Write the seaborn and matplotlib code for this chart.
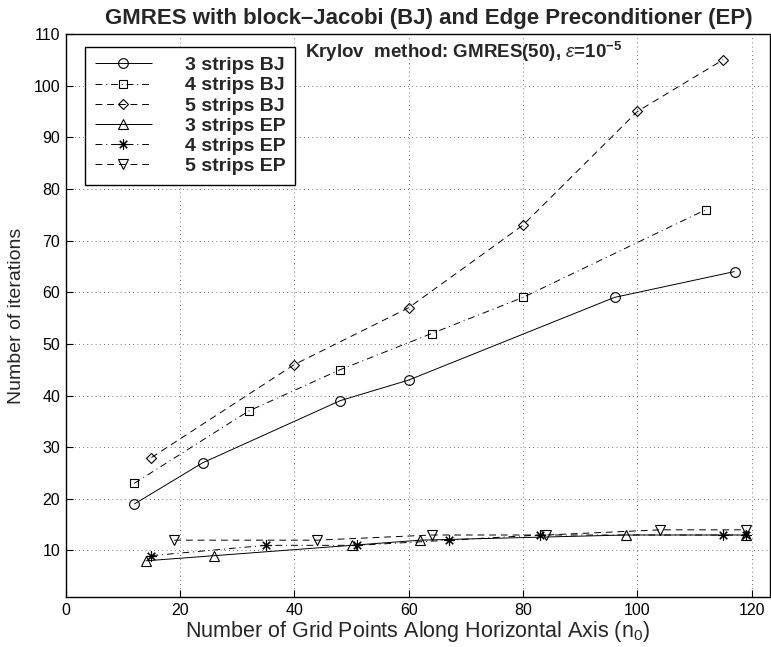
import matplotlib
matplotlib.use("Agg")
import matplotlib.pyplot as plt
import pandas as pd
import seaborn as sns

# data
x_bj3 = [12, 24, 48, 60, 96, 117]
y_bj3 = [19, 27, 39, 43, 59, 64]
x_bj4 = [12, 32, 48, 64, 80, 112]
y_bj4 = [23, 37, 45, 52, 59, 76]
x_bj5 = [15, 40, 60, 80, 100, 115]
y_bj5 = [28, 46, 57, 73, 95, 105]
x_ep3 = [14, 26, 50, 62, 98, 119]
y_ep3 = [8, 9, 11, 12, 13, 13]
x_ep4 = [15, 35, 51, 67, 83, 115, 119]
y_ep4 = [9, 11, 11, 12, 13, 13, 13]
x_ep5 = [19, 44, 64, 84, 104, 119]
y_ep5 = [12, 12, 13, 13, 14, 14]

labels = ["3 strips BJ", "4 strips BJ", "5 strips BJ",
          "3 strips EP", "4 strips EP", "5 strips EP"]
xs = [x_bj3, x_bj4, x_bj5, x_ep3, x_ep4, x_ep5]
ys = [y_bj3, y_bj4, y_bj5, y_ep3, y_ep4, y_ep5]
# (8, 2, 0) = matlab-like asterisk
markers = ["o", "s", "D", "^", (8, 2, 0), "v"]
marker_sizes = [7, 5.6, 5.6, 7, 7.5, 7]

solid = (0, ())
dashdot = (0, (7, 4, 1, 4))
dashed = (0, (7, 5))
line_styles = [solid, dashdot, dashed, solid, dashdot, dashed]

x_ticks = [0, 20, 40, 60, 80, 100, 120]
y_ticks = [10, 20, 30, 40, 50, 60, 70, 80, 90, 100, 110]

sns.set_style("ticks")
plt.rcParams["font.family"] = ["Liberation Sans", "DejaVu Sans"]
plt.rcParams["mathtext.fontset"] = "custom"
plt.rcParams["mathtext.rm"] = "Liberation Sans"
plt.rcParams["mathtext.it"] = "Liberation Sans:italic"
plt.rcParams["mathtext.bf"] = "Liberation Sans:bold"

fig = plt.figure(figsize=(7.71, 6.47), dpi=100)
ax = fig.add_axes([0.0852, 0.0773, 0.9135, 0.8702])

handles = []
for x, y, lab, mk, ms, ls in zip(xs, ys, labels, markers, marker_sizes, line_styles):
    df = pd.DataFrame({"x": x, "y": y})
    sns.lineplot(data=df, x="x", y="y", ax=ax, sort=False, color="black",
                 marker=mk, markersize=ms, markerfacecolor="none",
                 markeredgecolor="black", markeredgewidth=0.8,
                 linewidth=0.7, linestyle=ls, label=lab, legend=False)
    handles.append(ax.lines[-1])

ax.set_xlim(0, 123.2)
ax.set_ylim(1, 110)
ax.set_xticks(x_ticks)
ax.set_yticks(y_ticks)
ax.tick_params(direction="in", length=5, width=0.8, labelsize=11.5, colors="black", pad=4)
ax.grid(True, linestyle=(0, (1, 4)), color="black", linewidth=0.6, alpha=0.7)
for s in ax.spines.values():
    s.set_linewidth(1.0)
    s.set_color("black")

ax.set_xlabel("Number of Grid Points Along Horizontal Axis (n$_0$)", fontsize=15.5, labelpad=1)
ax.set_ylabel("Number of iterations", fontsize=14, labelpad=6)
ax.set_title("GMRES with block\u2013Jacobi (BJ) and Edge Preconditioner (EP)",
             fontsize=16, fontweight="bold", pad=7, x=0.515)

ax.text(41.8, 108.8, r"Krylov  method: GMRES(50), $\varepsilon$=10$^{\mathbf{-5}}$",
        fontsize=13.5, fontweight="bold", va="top", ha="left")

leg = ax.legend(handles=handles, labels=labels, loc="upper left",
                bbox_to_anchor=(0.0274, 0.977), borderaxespad=0,
                prop={"weight": "bold", "size": 14},
                frameon=True, fancybox=False, edgecolor="black", framealpha=1,
                handlelength=2.95, handletextpad=1.7, labelspacing=0.13,
                borderpad=0.5, numpoints=1)
leg.get_frame().set_linewidth(1.0)

fig.savefig("out.png", dpi=100)
